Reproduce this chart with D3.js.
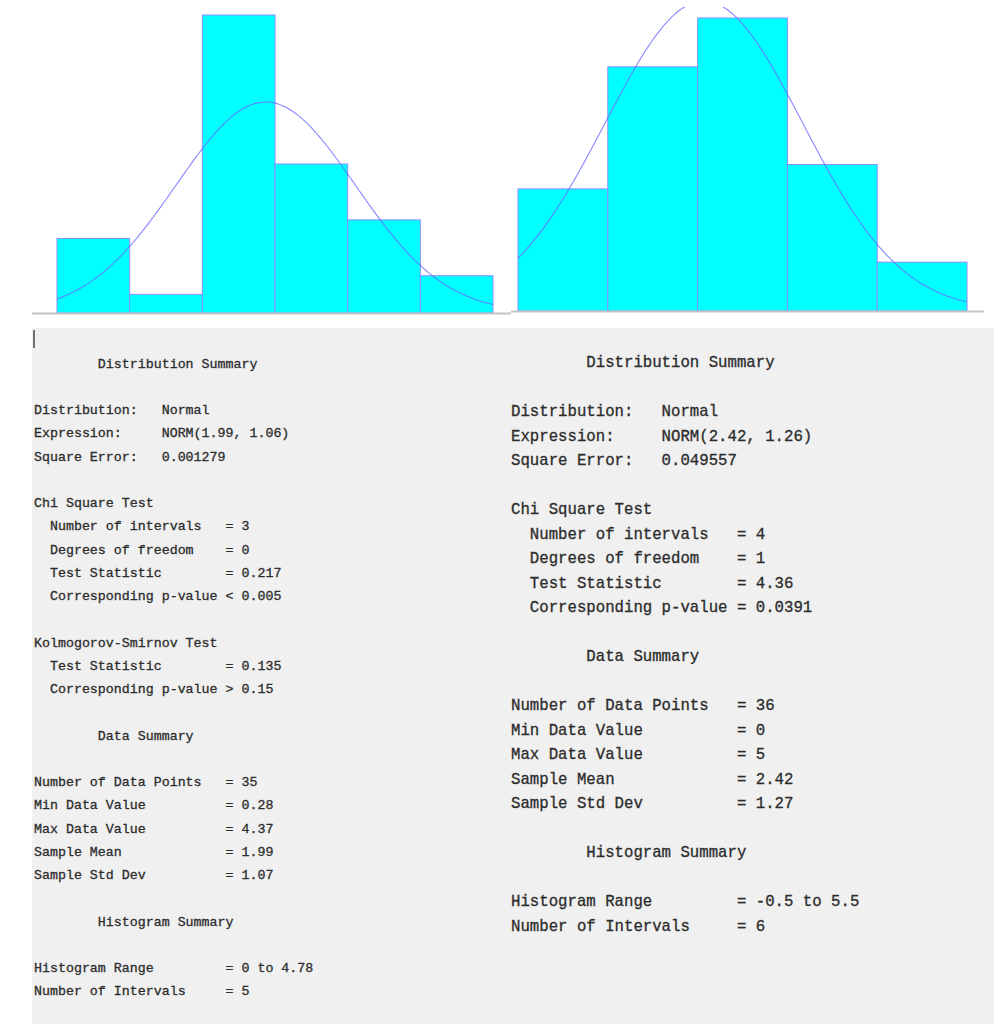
<!DOCTYPE html>
<html>
<head>
<meta charset="utf-8">
<script src="https://cdn.jsdelivr.net/npm/d3@7"></script>
<style>
  body { margin: 0; background: #fff; }
  .summary text { font-family: "Liberation Mono", monospace; white-space: pre; fill: #2c2c2c; stroke: #2c2c2c; stroke-width: 0.3px; }
</style>
</head>
<body>
<div id="chart"></div>
<script>
// left fit: bins and counts
const leftBinEdges = [-0.48, 0.38, 1.24, 2.10, 2.96, 3.82, 4.68];
const leftCounts = [4, 1, 16, 8, 5, 2];
const leftFit = [1.99, 1.06, 35];   // mean, sd, n

// right fit
const rightBinEdges = [-0.5, 0.5, 1.5, 2.5, 3.5, 4.5];
const rightCounts = [5, 10, 12, 6, 2];
const rightFit = [1.57, 1.10, 35];

// summary texts
const leftLines = [
  "        Distribution Summary",
  "",
  "Distribution:   Normal",
  "Expression:     NORM(1.99, 1.06)",
  "Square Error:   0.001279",
  "",
  "Chi Square Test",
  "  Number of intervals   = 3",
  "  Degrees of freedom    = 0",
  "  Test Statistic        = 0.217",
  "  Corresponding p-value < 0.005",
  "",
  "Kolmogorov-Smirnov Test",
  "  Test Statistic        = 0.135",
  "  Corresponding p-value > 0.15",
  "",
  "        Data Summary",
  "",
  "Number of Data Points   = 35",
  "Min Data Value          = 0.28",
  "Max Data Value          = 4.37",
  "Sample Mean             = 1.99",
  "Sample Std Dev          = 1.07",
  "",
  "        Histogram Summary",
  "",
  "Histogram Range         = 0 to 4.78",
  "Number of Intervals     = 5"
];
const rightLines = [
  "        Distribution Summary",
  "",
  "Distribution:   Normal",
  "Expression:     NORM(2.42, 1.26)",
  "Square Error:   0.049557",
  "",
  "Chi Square Test",
  "  Number of intervals   = 4",
  "  Degrees of freedom    = 1",
  "  Test Statistic        = 4.36",
  "  Corresponding p-value = 0.0391",
  "",
  "        Data Summary",
  "",
  "Number of Data Points   = 36",
  "Min Data Value          = 0",
  "Max Data Value          = 5",
  "Sample Mean             = 2.42",
  "Sample Std Dev          = 1.27",
  "",
  "        Histogram Summary",
  "",
  "Histogram Range         = -0.5 to 5.5",
  "Number of Intervals     = 6"
];

const W = 994, H = 1028;
const svg = d3.select("#chart").append("svg")
    .attr("width", W)
    .attr("height", H);

svg.append("rect").attr("width", W).attr("height", H).attr("fill", "#fff");

// clip curves at top like the screenshot
svg.append("defs").append("clipPath").attr("id", "topclip")
    .append("rect").attr("x", 0).attr("y", 7).attr("width", W).attr("height", H);

function drawHist(edges, counts, fit, xRange, baseY, topY, maxCount) {
    let x = d3.scaleLinear()
        .domain([edges[0], edges[edges.length - 1]])
        .range(xRange);
    let y = d3.scaleLinear()
        .domain([0, maxCount])
        .range([baseY, topY]);

    let bins = counts.map((c, i) => ({x0: edges[i], x1: edges[i + 1], count: c}));

    let g = svg.append("g");

    g.selectAll(".bar")
        .data(bins)
        .enter()
        .append("rect")
        .attr("class", "bar")
        .attr("x", d => x(d.x0))
        .attr("y", d => y(d.count))
        .attr("width", d => x(d.x1) - x(d.x0))
        .attr("height", d => y(0) - y(d.count))
        .attr("fill", "#00ffff")
        .attr("stroke", "#8c8cff")
        .attr("stroke-width", 1);

    // fitted normal, scaled to expected counts per bin
    let mean = fit[0], sd = fit[1], n = fit[2];
    let w = edges[1] - edges[0];
    let pdf = v => Math.exp(-0.5 * ((v - mean) / sd) ** 2) / (sd * Math.sqrt(2 * Math.PI));
    let pts = d3.range(0, 201).map(i => edges[0] + (edges[edges.length - 1] - edges[0]) * i / 200);

    let line = d3.line()
        .x(v => x(v))
        .y(v => y(n * w * pdf(v)))
        .curve(d3.curveMonotoneX);

    g.append("path")
        .datum(pts)
        .attr("d", line)
        .attr("fill", "none")
        .attr("stroke", "#6a6aff")
        .attr("stroke-opacity", 0.8)
        .attr("stroke-width", 1.1)
        .attr("clip-path", "url(#topclip)");
}

drawHist(leftBinEdges, leftCounts, leftFit, [57, 493], 313, 15, 16);
drawHist(rightBinEdges, rightCounts, rightFit, [518, 967], 311, 18, 12);

// gray baselines
svg.append("line").attr("x1", 32).attr("x2", 511).attr("y1", 313.5).attr("y2", 313.5)
    .attr("stroke", "#c4c4c4").attr("stroke-width", 2);
svg.append("line").attr("x1", 511).attr("x2", 984).attr("y1", 311.5).attr("y2", 311.5)
    .attr("stroke", "#c4c4c4").attr("stroke-width", 2);

// summary panel
let panel = svg.append("g").attr("class", "summary");
panel.append("rect")
    .attr("x", 32).attr("y", 328)
    .attr("width", W - 32).attr("height", 1024 - 328)
    .attr("fill", "#f0f0f0");

// little text cursor
panel.append("rect")
    .attr("x", 33).attr("y", 330)
    .attr("width", 2).attr("height", 18)
    .attr("fill", "#707070");

panel.selectAll(".left-line")
    .data(leftLines)
    .enter()
    .append("text")
    .attr("class", "left-line")
    .attr("x", 34)
    .attr("y", (d, i) => 363 + i * 23.25)
    .attr("dy", "0.35em")
    .attr("font-size", "13.3px")
    .text(d => d);

panel.selectAll(".right-line")
    .data(rightLines)
    .enter()
    .append("text")
    .attr("class", "right-line")
    .attr("x", 511)
    .attr("y", (d, i) => 362 + i * 24.5)
    .attr("dy", "0.35em")
    .attr("font-size", "15.7px")
    .text(d => d);
</script>
</body>
</html>
